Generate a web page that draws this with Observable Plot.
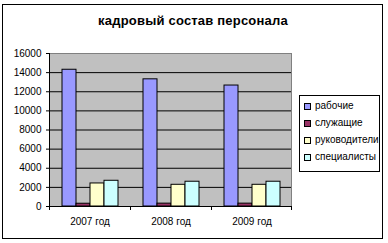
<!DOCTYPE html>
<html>
<head>
<meta charset="utf-8">
<script src="https://cdn.jsdelivr.net/npm/d3@7"></script>
<script src="https://cdn.jsdelivr.net/npm/@observablehq/plot@0.6"></script>
<style>
  body { margin: 0; background: #fff; }
  #wrap { position: relative; width: 388px; height: 243px; font-family: "Liberation Sans", Arial, sans-serif; }
  #border { position: absolute; left: 2px; top: 4px; width: 379px; height: 233px; border: 1px solid #000; box-sizing: content-box; pointer-events: none; }
  #title { position: absolute; left: 0; width: 386px; top: 13px; text-align: center; font-weight: bold; font-size: 13px; letter-spacing: 0.2px; color: #000; }
  #chart { position: absolute; left: 0; top: 0; }
  #legend { position: absolute; left: 299px; top: 95px; width: 79px; height: 75px; border: 1px solid #000; background: #fff; font-size: 10px; }
  .item { position: absolute; left: 4px; height: 12px; line-height: 12px; display: flex; align-items: center; white-space: nowrap; }
  .sw { width: 5px; height: 5px; border: 1px solid #000; margin-right: 4px; }
</style>
</head>
<body>
<div id="wrap">
  <div id="chart"></div>
  <div id="title">кадровый состав персонала</div>
  <div id="legend"></div>
  <div id="border"></div>
</div>
<script>
const years = ["2007 год", "2008 год", "2009 год"];
const categories = ["рабочие", "служащие", "руководители", "специалисты"];
const workers = [14300, 13300, 12650];
const employees = [290, 300, 300];
const managers = [2410, 2270, 2270];
const specialists = [2690, 2590, 2590];
const yTicks = [0, 2000, 4000, 6000, 8000, 10000, 12000, 14000, 16000];
const colors = ["#9999FF", "#993366", "#FFFFCC", "#CCFFFF"];

const series = [workers, employees, managers, specialists];
const data = [];
years.forEach((yr, i) => categories.forEach((c, j) => data.push({year: yr, cat: c, value: series[j][i]})));

const chart = Plot.plot({
  width: 388,
  height: 243,
  marginLeft: 49,
  marginRight: 96,
  marginTop: 53,
  marginBottom: 37,
  style: {fontFamily: '"Liberation Sans", Arial, sans-serif', fontSize: "10px", color: "#000", background: "transparent"},
  fx: {domain: years, padding: 0, label: null, tickSize: 0, tickPadding: 11},
  x: {domain: categories, paddingInner: 0, paddingOuter: 0.75, axis: null},
  y: {domain: [0, 16000], ticks: yTicks, tickSize: 3, tickPadding: 5, label: null, tickFormat: d => String(d)},
  color: {domain: categories, range: colors},
  marks: [
    Plot.ruleY(yTicks.slice(0, -1), {stroke: "#000", strokeWidth: 1}),
    Plot.barY(data, {fx: "year", x: "cat", y: "value", fill: "cat", stroke: "#000", strokeWidth: 1, inset: 0})
  ]
});
document.getElementById("chart").appendChild(chart);

// plot-area background/border, axis lines and x-axis boundary ticks, positioned with the library's scales
const fxScale = chart.scale("fx");
const yScale = chart.scale("y");
const svgNode = chart.tagName.toLowerCase() === "svg" ? chart : chart.querySelector("svg");
const svg = d3.select(svgNode);
const bw = fxScale.bandwidth;
const pLeft = fxScale.apply(years[0]);
const pRight = fxScale.apply(years[years.length - 1]) + bw;
const pTop = yScale.apply(16000), pBottom = yScale.apply(0);
svg.insert("rect", ":first-child").attr("x", pLeft).attr("y", pTop).attr("width", pRight - pLeft).attr("height", pBottom - pTop)
  .attr("fill", "#C0C0C0");
svg.append("rect").attr("x", pLeft + 0.5).attr("y", pTop + 0.5).attr("width", pRight - pLeft - 1).attr("height", pBottom - pTop)
  .attr("fill", "none").attr("stroke", "#808080");
svg.append("line").attr("x1", pLeft + 0.5).attr("x2", pLeft + 0.5).attr("y1", pTop).attr("y2", pBottom).attr("stroke", "#000");
svg.append("line").attr("x1", pLeft).attr("x2", pRight).attr("y1", pBottom + 0.5).attr("y2", pBottom + 0.5).attr("stroke", "#000");
years.forEach(y => {
  const x = Math.round(fxScale.apply(y));
  svg.append("line").attr("x1", x + 0.5).attr("x2", x + 0.5).attr("y1", pBottom).attr("y2", pBottom + 4).attr("stroke", "#000");
});
svg.append("line").attr("x1", pRight - 0.5).attr("x2", pRight - 0.5).attr("y1", pBottom).attr("y2", pBottom + 4).attr("stroke", "#000");

const legend = document.getElementById("legend");
const itemTops = [4, 21, 38, 55];
categories.forEach((c, i) => {
  const it = document.createElement("div");
  it.className = "item";
  it.style.top = itemTops[i] + "px";
  const sw = document.createElement("span");
  sw.className = "sw";
  sw.style.background = colors[i];
  it.appendChild(sw);
  it.appendChild(document.createTextNode(c));
  legend.appendChild(it);
});
</script>
</body>
</html>
